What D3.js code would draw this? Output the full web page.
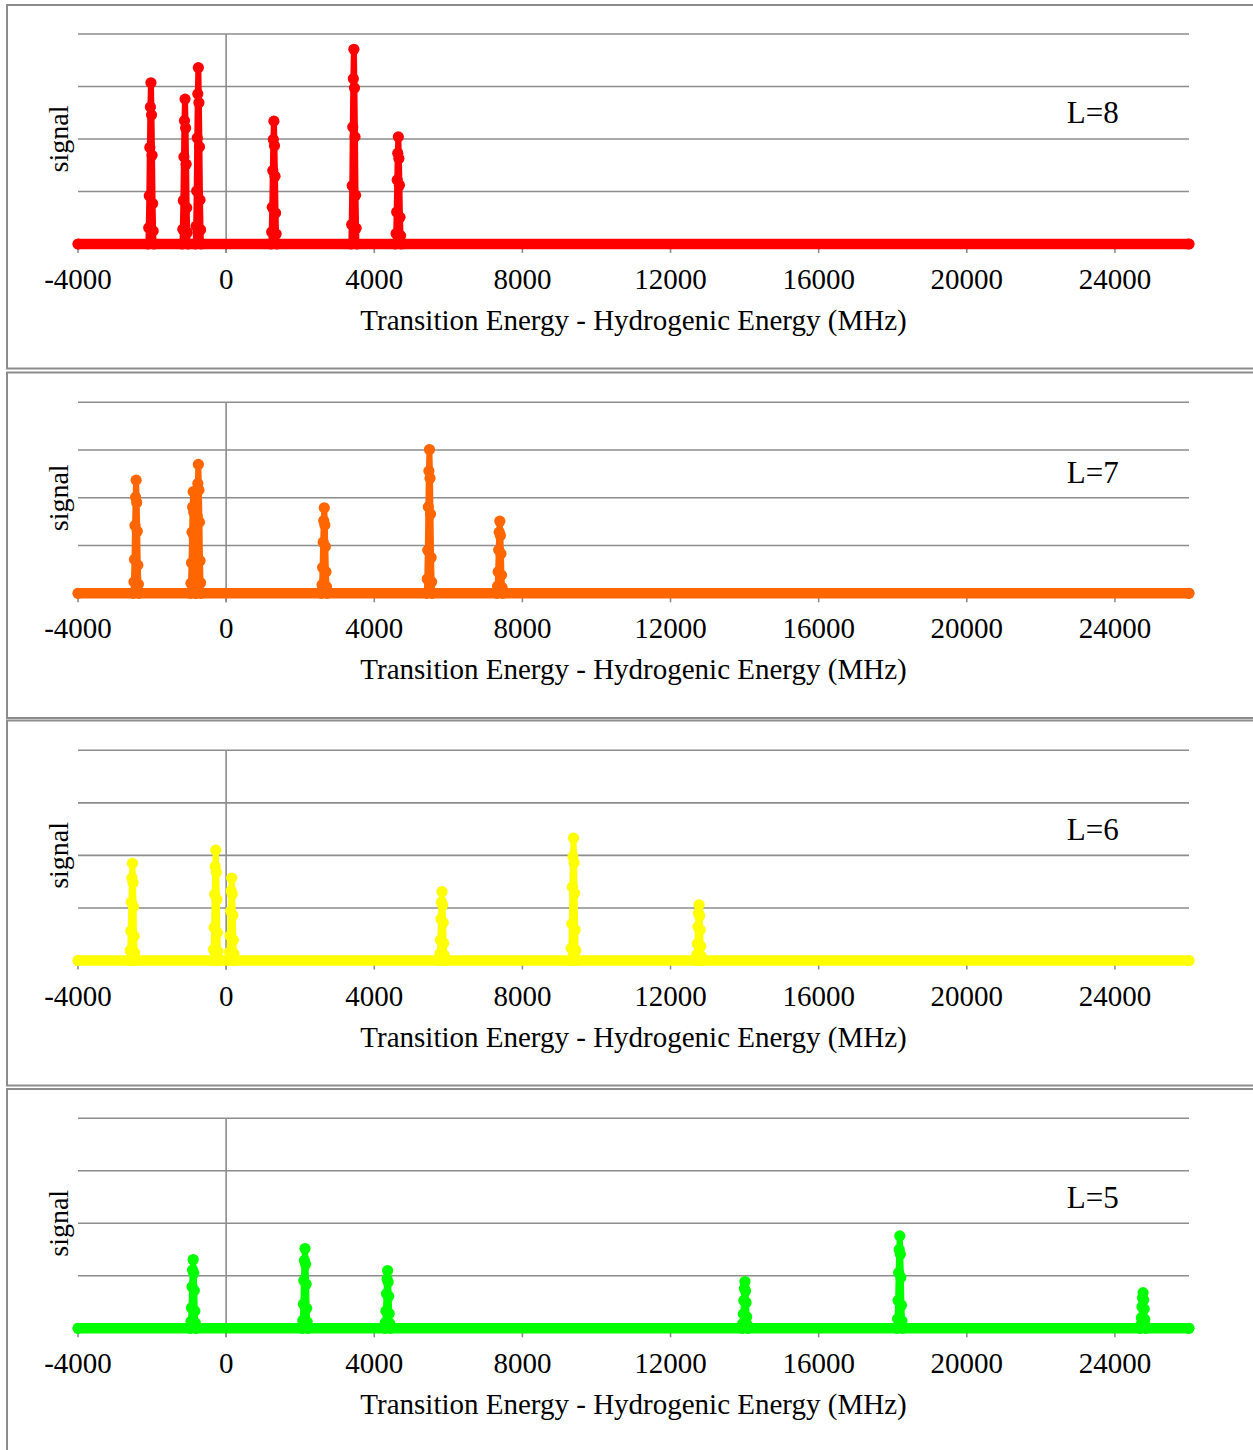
<!DOCTYPE html>
<html><head><meta charset="utf-8">
<script src="https://cdn.jsdelivr.net/npm/d3@7"></script>
<style>
body{margin:0;background:#fff;}
text{font-family:"Liberation Serif","Times New Roman",serif;fill:#000;}
</style>
</head><body><svg id="c" width="1253" height="1450"></svg>
<script>
// ---------- data ----------
const xDomain = [-4000, 26000];
const yDomain = [0, 4];
const xTicks = [-4000, 0, 4000, 8000, 12000, 16000, 20000, 24000];
const yGrid = [1, 2, 3, 4];
const xTitle = "Transition Energy - Hydrogenic Energy (MHz)";
const yTitle = "signal";
const panelLabels = ["L=8", "L=7", "L=6", "L=5"];
const labelAt = [22700, 2.3];

// sample offsets (MHz) of the measured points around each line centre
const sampleOffsets = [-60, -45, -30, -15, 0, 15, 30, 45, 60];
const edgeOffset = 70;

const centersL8 = [-2030, -1110, -750, 1290, 3450, 4650];
const samplesL8 = [
  [0.31, 0.92, 1.84, 2.61, 3.07, 2.46, 1.69, 0.77, 0.25],
  [0.28, 0.83, 1.66, 2.35, 2.76, 2.21, 1.52, 0.69, 0.22],
  [0.34, 1.01, 2.02, 2.86, 3.36, 2.69, 1.85, 0.84, 0.27],
  [0.23, 0.70, 1.40, 1.99, 2.34, 1.87, 1.29, 0.59, 0.19],
  [0.37, 1.11, 2.23, 3.15, 3.71, 2.97, 2.04, 0.93, 0.30],
  [0.20, 0.61, 1.22, 1.73, 2.04, 1.63, 1.12, 0.51, 0.16]
];
const centersL7 = [-2430, -890, -750, 2650, 5490, 7390];
const samplesL7 = [
  [0.24, 0.71, 1.42, 2.01, 2.37, 1.90, 1.30, 0.59, 0.19],
  [0.21, 0.64, 1.28, 1.81, 2.13, 1.70, 1.17, 0.53, 0.17],
  [0.27, 0.81, 1.62, 2.30, 2.70, 2.16, 1.49, 0.68, 0.22],
  [0.18, 0.54, 1.07, 1.52, 1.79, 1.43, 0.98, 0.45, 0.14],
  [0.30, 0.90, 1.81, 2.56, 3.01, 2.41, 1.66, 0.75, 0.24],
  [0.15, 0.45, 0.91, 1.28, 1.51, 1.21, 0.83, 0.38, 0.12]
];
const centersL6 = [-2530, -280, 150, 5830, 9380, 12770];
const samplesL6 = [
  [0.19, 0.56, 1.11, 1.57, 1.85, 1.48, 1.02, 0.46, 0.15],
  [0.21, 0.63, 1.26, 1.79, 2.10, 1.68, 1.16, 0.53, 0.17],
  [0.16, 0.47, 0.94, 1.33, 1.57, 1.26, 0.86, 0.39, 0.13],
  [0.13, 0.39, 0.79, 1.11, 1.31, 1.05, 0.72, 0.33, 0.10],
  [0.23, 0.70, 1.40, 1.98, 2.33, 1.86, 1.28, 0.58, 0.19],
  [0.11, 0.32, 0.64, 0.90, 1.06, 0.85, 0.58, 0.27, 0.08]
];
const centersL5 = [-890, 2130, 4360, 14010, 18190, 24760];
const samplesL5 = [
  [0.13, 0.39, 0.79, 1.11, 1.31, 1.05, 0.72, 0.33, 0.10],
  [0.15, 0.46, 0.91, 1.29, 1.52, 1.22, 0.84, 0.38, 0.12],
  [0.11, 0.33, 0.66, 0.94, 1.10, 0.88, 0.61, 0.28, 0.09],
  [0.09, 0.27, 0.53, 0.76, 0.89, 0.71, 0.49, 0.22, 0.07],
  [0.18, 0.53, 1.06, 1.50, 1.76, 1.41, 0.97, 0.44, 0.14],
  [0.07, 0.20, 0.41, 0.58, 0.68, 0.54, 0.37, 0.17, 0.05]
];

// ---------- styles / layout ----------
const colors = ["#ff0000", "#ff6600", "#ffff00", "#00ff00"];
const layout = [
  {box: [5, 368.5],    plot: [34, 244]},
  {box: [372.5, 718],  plot: [402.3, 593.3]},
  {box: [720.5, 1085.5], plot: [750.3, 960.5]},
  {box: [1089, 1460],  plot: [1118.3, 1328.3]}
];
const panelData = [
  [centersL8, samplesL8],
  [centersL7, samplesL7],
  [centersL6, samplesL6],
  [centersL5, samplesL5]
];

function buildSeries(centers, samples) {
  const pts = [[xDomain[0], 0]];
  centers.forEach((c, i) => {
    pts.push([c - edgeOffset, 0]);
    sampleOffsets.forEach((o, j) => pts.push([c + o, samples[i][j]]));
    pts.push([c + edgeOffset, 0]);
  });
  pts.push([xDomain[1], 0]);
  return pts;
}

const svg = d3.select("#c");
const x = d3.scaleLinear().domain(xDomain).range([78, 1189]);
const gridColor = "#8c8c8c";
const fontSize = 29;

layout.forEach((L, p) => {
  const g = svg.append("g");
  const y = d3.scaleLinear().domain(yDomain).range([L.plot[1], L.plot[0]]);
  const y0 = y(0);

  g.append("rect")
    .attr("x", 7).attr("y", L.box[0])
    .attr("width", 1270).attr("height", L.box[1] - L.box[0])
    .attr("fill", "none").attr("stroke", gridColor).attr("stroke-width", 2);

  g.selectAll(".grid").data(yGrid).enter().append("line")
    .attr("x1", x(xDomain[0])).attr("x2", x(xDomain[1]))
    .attr("y1", d => y(d)).attr("y2", d => y(d))
    .attr("stroke", gridColor).attr("stroke-width", 1.6);

  // y axis at x = 0
  g.append("line")
    .attr("x1", x(0)).attr("x2", x(0))
    .attr("y1", y(yDomain[1])).attr("y2", y0 + 9)
    .attr("stroke", gridColor).attr("stroke-width", 1.6);

  // x axis ticks
  g.selectAll(".tick").data(xTicks).enter().append("line")
    .attr("x1", d => x(d)).attr("x2", d => x(d))
    .attr("y1", y0).attr("y2", y0 + 9)
    .attr("stroke", gridColor).attr("stroke-width", 1.6);

  const series = buildSeries(panelData[p][0], panelData[p][1]);

  // runs of zero-signal samples: densely overlapping markers form a thick band
  const zeroLine = d3.line().defined(d => d[1] === 0).x(d => x(d[0])).y(d => y(d[1]));
  g.append("path").datum(series)
    .attr("d", zeroLine)
    .attr("fill", "none").attr("stroke", colors[p])
    .attr("stroke-width", 10.6)
    .attr("stroke-linejoin", "round").attr("stroke-linecap", "round");

  const line = d3.line().x(d => x(d[0])).y(d => y(d[1]));
  g.append("path").datum(series)
    .attr("d", line)
    .attr("fill", "none").attr("stroke", colors[p])
    .attr("stroke-width", 6)
    .attr("stroke-linejoin", "round").attr("stroke-linecap", "round");

  g.selectAll(".dot").data(series).enter().append("circle")
    .attr("cx", d => x(d[0])).attr("cy", d => y(d[1]))
    .attr("r", 5.6).attr("fill", colors[p]);

  g.selectAll(".tl").data(xTicks).enter().append("text")
    .attr("x", d => x(d)).attr("y", y0 + 45)
    .attr("text-anchor", "middle").attr("font-size", fontSize)
    .text(d => String(d));

  g.append("text")
    .attr("x", (x(xDomain[0]) + x(xDomain[1])) / 2).attr("y", y0 + 86)
    .attr("text-anchor", "middle").attr("font-size", fontSize)
    .text(xTitle);

  g.append("text")
    .attr("transform", `translate(68,${(L.plot[0] + L.plot[1]) / 2}) rotate(-90)`)
    .attr("text-anchor", "middle").attr("font-size", 28)
    .text(yTitle);

  g.append("text")
    .attr("x", x(labelAt[0])).attr("y", y(labelAt[1]))
    .attr("font-size", 31)
    .text(panelLabels[p]);
});
</script>
</body></html>
